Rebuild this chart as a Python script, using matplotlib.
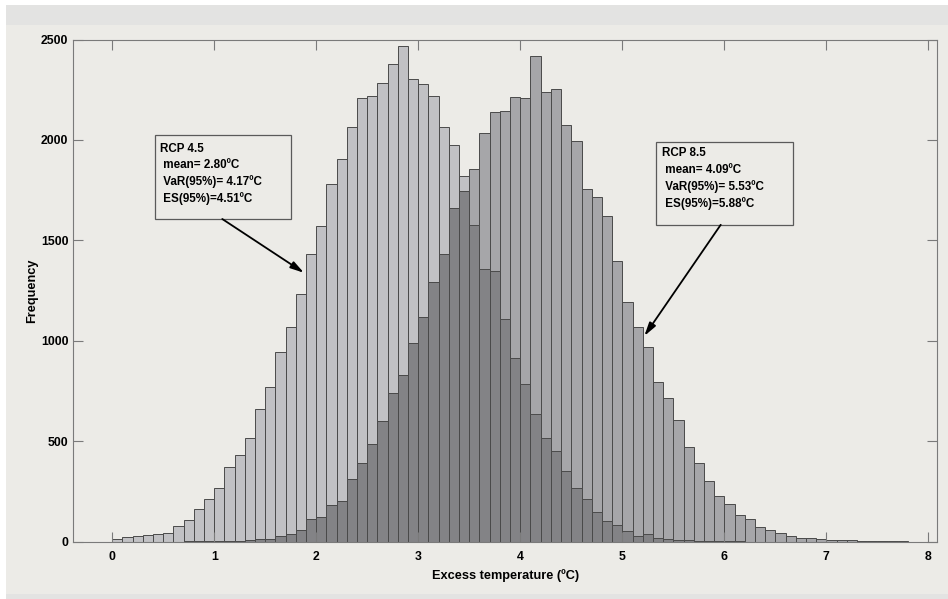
import numpy as np
import matplotlib
matplotlib.use("Agg")
import matplotlib.pyplot as plt
from matplotlib.patches import Rectangle

# ---------------- data ----------------
bin_width = 0.1
bin_left = np.round(np.arange(0.0, 7.8, bin_width), 2)   # 78 bins, 0.0 ... 7.7

rcp45 = [13, 22, 27, 32, 39, 44, 77, 106, 162, 212,
         269, 370, 431, 515, 658, 769, 946, 1067, 1234, 1431,
         1571, 1781, 1906, 2066, 2210, 2220, 2283, 2377, 2470, 2305,
         2279, 2217, 2064, 1976, 1823, 1577, 1360, 1350, 1108, 912,
         785, 633, 515, 453, 350, 266, 212, 148, 104, 81,
         52, 30, 36, 18, 14, 10, 8, 5, 4, 3,
         2, 1, 0, 0, 0, 0, 0, 0, 0, 0,
         0, 0, 0, 0, 0, 0, 0, 0]

rcp85 = [0, 0, 0, 0, 0, 0, 0, 1, 1, 2,
         2, 3, 5, 8, 12, 14, 28, 38, 58, 114,
         123, 180, 200, 311, 392, 485, 599, 741, 828, 988,
         1120, 1291, 1433, 1660, 1744, 1856, 2035, 2140, 2143, 2212,
         2210, 2416, 2239, 2254, 2076, 1993, 1758, 1714, 1623, 1399,
         1195, 1067, 968, 795, 717, 608, 473, 389, 303, 226,
         185, 131, 114, 72, 56, 45, 30, 19, 17, 13,
         8, 7, 6, 5, 2, 2, 3, 1]

x_ticks = [0, 1, 2, 3, 4, 5, 6, 7, 8]
y_ticks = [0, 500, 1000, 1500, 2000, 2500]

box45 = "RCP 4.5\n mean= 2.80ºC\n VaR(95%)= 4.17ºC\n ES(95%)=4.51ºC"
box85 = "RCP 8.5\n mean= 4.09ºC\n VaR(95%)= 5.53ºC\n ES(95%)=5.88ºC"

# ---------------- style ----------------
plt.rcParams['font.family'] = ['Liberation Sans', 'DejaVu Sans']
plt.rcParams['font.weight'] = 'bold'

BG = '#ecebe7'
BAND = '#e3e3e2'
LIGHT = '#c1c1c4'
MED = '#a6a6a9'
DARK = '#838386'
EDGE = '#4a4a4a'
SPINE = '#7a7a7a'

W, H = 948, 599
fig = plt.figure(figsize=(W / 100, H / 100), dpi=100)
fig.patch.set_facecolor('white')
# background panels
fig.add_artist(Rectangle((6 / W, 5 / H), 1 - 6 / W, 1 - 30 / H, transform=fig.transFigure,
                         facecolor=BG, edgecolor='none', zorder=-10))
fig.add_artist(Rectangle((6 / W, 1 - 25 / H), 1 - 6 / W, 20 / H, transform=fig.transFigure,
                         facecolor=BAND, edgecolor='none', zorder=-9))
fig.add_artist(Rectangle((6 / W, 0), 1 - 6 / W, 5 / H, transform=fig.transFigure,
                         facecolor=BAND, edgecolor='none', zorder=-9))

ax_l, ax_r, ax_t, ax_b = 73.3, 937.0, 39.6, 541.6
ax = fig.add_axes([ax_l / W, 1 - ax_b / H, (ax_r - ax_l) / W, (ax_b - ax_t) / H])
ax.set_facecolor(BG)

a45 = np.array(rcp45)
a85 = np.array(rcp85)
overlap = np.minimum(a45, a85)

kw = dict(width=bin_width, align='edge', edgecolor=EDGE, linewidth=0.7)
ax.bar(bin_left, a45, color=LIGHT, **kw)
ax.bar(bin_left, a85, color=MED, **kw)
ax.bar(bin_left, overlap, color=DARK, **kw)

ax.set_xlim(-0.382, 8.085)
ax.set_ylim(0, 2500)
ax.set_xticks(x_ticks)
ax.set_yticks(y_ticks)
ax.tick_params(axis='both', direction='in', top=True, right=True, length=7,
               width=0.8, color=SPINE, labelsize=8.8)
ax.tick_params(axis='x', pad=6.5)
ax.tick_params(axis='y', pad=3.6)
for lab in ax.get_xticklabels() + ax.get_yticklabels():
    lab.set_fontweight('bold')
for s in ax.spines.values():
    s.set_color(SPINE)
    s.set_linewidth(0.8)

ax.set_xlabel('Excess temperature (ºC)', fontsize=9.2, fontweight='bold', labelpad=5)
ax.set_ylabel('Frequency', fontsize=9.2, fontweight='bold', labelpad=1.8)

# ---------------- annotation boxes ----------------
def px2ax(px, py):
    return ((px - ax_l) / (ax_r - ax_l), (ax_b - py) / (ax_b - ax_t))

def add_box(x0, y0, x1, y1, txt, tx, ty):
    (ax0, ay1) = px2ax(x0, y0)
    (ax1, ay0) = px2ax(x1, y1)
    ax.add_patch(Rectangle((ax0, ay0), ax1 - ax0, ay1 - ay0, transform=ax.transAxes,
                           facecolor=BG, edgecolor='#5a5a5a', linewidth=0.9, zorder=5))
    tx_, ty_ = px2ax(tx, ty)
    ax.text(tx_, ty_, txt, transform=ax.transAxes, ha='left', va='top',
            fontsize=8.4, fontweight='bold', linespacing=1.45, zorder=6)

add_box(155.3, 135.0, 291.3, 219.0, box45, 160.5, 142.5)
add_box(656.0, 141.5, 792.5, 224.8, box85, 661.5, 147.5)

def px2data(px, py):
    return ((px - 112.3) / 102.0, (ax_b - py) * 2500 / (ax_b - ax_t))

arrow_kw = dict(arrowstyle='-|>,head_length=0.8,head_width=0.22', color='black',
                lw=1.3, shrinkA=0, shrinkB=0)
ax.annotate('', xy=px2data(304.0, 272.8), xytext=px2data(222.3, 219.0),
            arrowprops=arrow_kw, zorder=7)
ax.annotate('', xy=px2data(644.3, 336.0), xytext=px2data(720.7, 224.8),
            arrowprops=arrow_kw, zorder=7)

fig.savefig('out.png', dpi=100, facecolor=fig.get_facecolor())
